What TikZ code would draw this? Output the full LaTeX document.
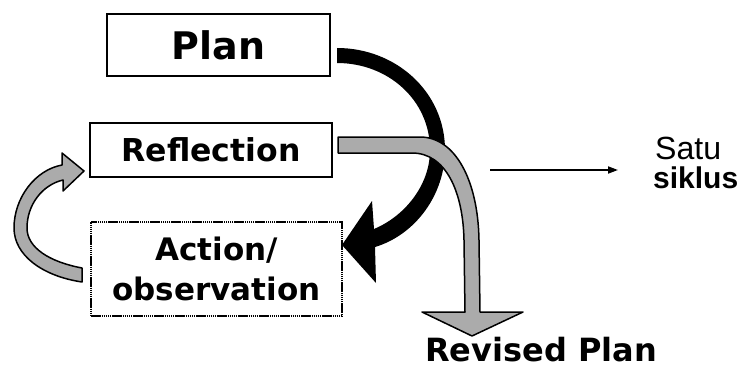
\documentclass[tikz,border=0pt]{standalone}
\usepackage{graphicx}
\usepackage{fontspec}
\setmainfont{DejaVu Sans}
\newfontfamily\libsans{Liberation Sans}
\usetikzlibrary{arrows.meta}
\begin{document}
\begin{tikzpicture}[x=1pt,y=-1pt,
  boxstyle/.style={draw=black, line width=2pt, inner sep=0pt, align=center},
  dotbox/.style={draw=black, line width=1.6pt, inner sep=0pt, align=center, dash pattern=on 1.5pt off 0.6pt},
  grayarrow/.style={fill=black!33, draw=black, line width=1.5pt, line join=round},
  lbl/.style={inner sep=0pt, anchor=base west}
]
\useasboundingbox (0,0) rectangle (744,369);

% boxes
\node[boxstyle, minimum width=223pt, minimum height=62pt,
      font=\bfseries\fontsize{38}{40}\selectfont] (plan) at (218.5,45) {Plan};
\node[boxstyle, minimum width=242pt, minimum height=54pt,
      font=\bfseries\fontsize{31.5}{33}\selectfont] (refl) at (211,150) {Reflection};
\node[dotbox, minimum width=251pt, minimum height=94pt,
      font=\bfseries\fontsize{31}{40}\selectfont] (act) at (216.5,269) {Action/\\observation};

% black curved arrow Plan -> Action
\fill[black] (337,48) .. controls (396,48) and (445,92) .. (445,150)
  .. controls (445,195) and (415,235) .. (375,247)
  -- (376,283) -- (342,245) -- (372,201) -- (374,229)
  .. controls (405,216) and (430,185) .. (430,150)
  .. controls (430,100) and (388,63) .. (337,63) -- cycle;

% gray bent arrow Reflection -> Revised Plan
\filldraw[grayarrow] (338,137) -- (420,137) .. controls (455,137) and (478,180) .. (479,240)
  -- (480,312) -- (523,312) -- (472,336) -- (422,312) -- (465,312) -- (464,240)
  .. controls (463,192) and (446,153) .. (412,153) -- (338,153) -- cycle;

% gray curved arrow Action -> Reflection
\filldraw[grayarrow] (82,282) .. controls (42,276) and (14,255) .. (14,228)
  .. controls (14,198) and (35,170) .. (62,165) -- (62,153) -- (84,171) -- (63,191) -- (63,180)
  .. controls (42,185) and (27,205) .. (27,228)
  .. controls (27,248) and (50,262) .. (82,268) -- cycle;

% Satu siklus
\node[lbl, font=\libsans\fontsize{31}{31}\selectfont] (satu) at (655,159) {\resizebox{66pt}{!}{Satu}};
\node[lbl, font=\libsans\bfseries\fontsize{30}{30}\selectfont] (siklus) at (653,188) {siklus};
\coordinate (sa) at (490,170);
\coordinate (sb) at (618,170);
\draw[line width=1.8pt, -{Triangle[length=10pt,width=7pt]}] (sa) -- (sb);

% Revised Plan
\node[lbl, font=\bfseries\fontsize{32}{33}\selectfont] (revised) at (425,361) {Revised Plan};
\end{tikzpicture}
\end{document}
